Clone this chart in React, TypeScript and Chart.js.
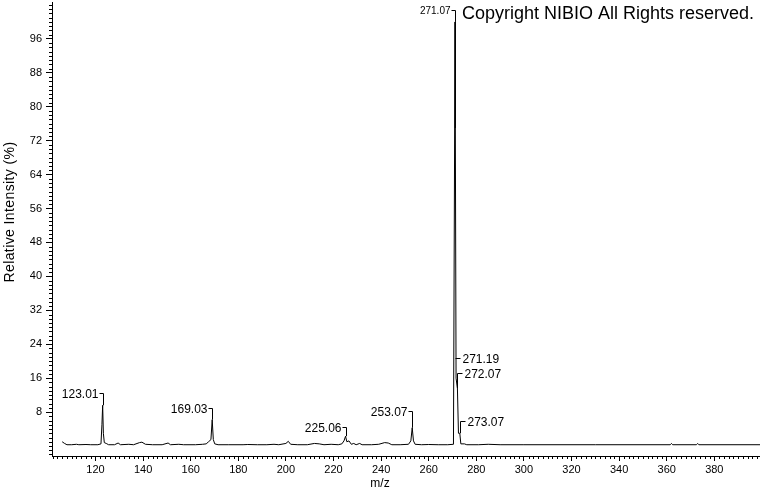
import React, { useEffect, useRef } from "react";
import { Chart, registerables } from "chart.js";
Chart.register(...registerables);

// Profile spectrum (m/z, relative intensity %)
const mz = [
  106, 107, 108, 110, 112, 113, 116, 118, 121, 122.3, 122.7, 123.01, 123.3, 123.7, 124.5, 125.5,
  128, 129.5, 130.5, 134, 136, 138.5, 139.5, 141, 144, 148, 150.5, 151.5, 155, 157, 162, 165,
  166.5, 167.5, 168.5, 169.03, 169.5, 170.1, 171.5, 176, 182, 184, 188, 192, 195, 197, 200, 201,
  202, 205, 209, 212, 214, 216, 219, 222, 223.5, 224.4, 225.06, 225.6, 226.5, 227.5, 228.5, 229.5,
  231, 232, 236, 239, 241.5, 243, 244.5, 248, 251.5, 252.5, 253.07, 253.6, 254.3, 257, 260, 264,
  268, 270.4, 271.07, 271.19, 271.5, 272.07, 272.5, 273.07, 273.5, 275, 276, 281, 285, 290, 300,
  330, 361.5, 362, 362.5, 372.5, 373, 373.5, 399.5,
];
const intensity = [
  1.0, 0.6, 0.3, 0.3, 0.4, 0.3, 0.35, 0.3, 0.3, 0.5, 5, 9.6, 3, 0.8, 0.6, 0.3,
  0.3, 0.7, 0.3, 0.4, 0.3, 0.8, 0.9, 0.4, 0.3, 0.3, 0.7, 0.3, 0.4, 0.3, 0.3, 0.4,
  0.5, 1.0, 1.5, 6.2, 1.5, 0.5, 0.3, 0.3, 0.3, 0.35, 0.3, 0.3, 0.4, 0.3, 0.6, 1.1,
  0.4, 0.3, 0.3, 0.6, 0.5, 0.3, 0.4, 0.3, 0.5, 1.2, 2.3, 1.0, 1.2, 0.4, 0.6, 0.3,
  0.6, 0.3, 0.3, 0.4, 0.8, 0.7, 0.3, 0.3, 0.4, 1.2, 4.3, 1.2, 0.4, 0.3, 0.35, 0.3,
  0.3, 0.4, 100, 75, 16, 13.5, 3, 3, 0.5, 0.5, 0.3, 0.3, 0.4, 0.3, 0.3,
  0.3, 0.3, 0.6, 0.3, 0.3, 0.6, 0.3, 0.3,
];

// Labelled peaks
const peakMz = [123.01, 169.03, 225.06, 253.07, 271.07, 271.19, 272.07, 273.07];
const peakIntensity = [9.6, 6.2, 2.3, 4.3, 100, 75, 13.5, 3];
const peakLabels = ["123.01", "169.03", "225.06", "253.07", "271.07", "271.19", "272.07", "273.07"];

// Axis ticks
const xTicks = [120, 140, 160, 180, 200, 220, 240, 260, 280, 300, 320, 340, 360, 380];
const yTicks = [8, 16, 24, 32, 40, 48, 56, 64, 72, 80, 88, 96];

// Label placement (layout only)
const labelSide = ["left", "left", "left", "left", "left", "right", "right", "right"];
const labelLevel = [12.5, 9.0, 4.5, 8.3, 102.8, 20.7, 17.2, 5.9];
const labelFont = [12, 12, 12, 12, 10, 12, 12, 12];

const FONT = "'Liberation Sans', Arial, sans-serif";

const annotPlugin = {
  id: "annot",
  afterDraw(chart: any) {
    const { ctx, chartArea } = chart;
    const x = chart.scales.x;
    const y = chart.scales.y;
    ctx.save();
    ctx.strokeStyle = "#000";
    ctx.lineWidth = 1;
    // minor ticks
    ctx.beginPath();
    for (let v = Math.ceil(y.min); v <= y.max; v++) {
      if (yTicks.includes(v)) continue;
      const py = Math.round(y.getPixelForValue(v)) + 0.5;
      ctx.moveTo(chartArea.left - 3, py);
      ctx.lineTo(chartArea.left, py);
    }
    for (let v = Math.ceil(x.min / 2) * 2; v <= x.max; v += 2) {
      if (xTicks.includes(v)) continue;
      const px = Math.round(x.getPixelForValue(v)) + 0.5;
      ctx.moveTo(px, chartArea.bottom);
      ctx.lineTo(px, chartArea.bottom + 3);
    }
    ctx.stroke();

    // peak labels
    ctx.fillStyle = "#000";
    ctx.textBaseline = "middle";
    for (let i = 0; i < peakMz.length; i++) {
      const px = Math.round(x.getPixelForValue(peakMz[i])) + 0.5;
      const ly = Math.round(y.getPixelForValue(labelLevel[i])) + 0.5;
      const top = y.getPixelForValue(peakIntensity[i]);
      ctx.font = `${labelFont[i]}px ${FONT}`;
      ctx.beginPath();
      if (labelSide[i] === "left") {
        ctx.moveTo(px - 4, ly);
        ctx.lineTo(px, ly);
        if (top > ly) ctx.lineTo(px, top);
        ctx.stroke();
        ctx.textAlign = "right";
        ctx.fillText(peakLabels[i], px - 5, ly + 1);
      } else {
        ctx.moveTo(px, ly);
        ctx.lineTo(px + 5, ly);
        if (top > ly) {
          ctx.moveTo(px, ly);
          ctx.lineTo(px, top);
        }
        ctx.stroke();
        ctx.textAlign = "left";
        ctx.fillText(peakLabels[i], px + 7, ly + 1);
      }
    }

    // copyright
    ctx.font = `18px ${FONT}`;
    ctx.textAlign = "left";
    ctx.fillText("Copyright NIBIO All Rights reserved.", 462, 14);

    // x-axis title, centred on the canvas
    ctx.font = `12px ${FONT}`;
    ctx.textAlign = "center";
    ctx.fillText("m/z", chart.width / 2, 484);

    // y-axis title
    ctx.save();
    ctx.translate(10, 212);
    ctx.rotate(-Math.PI / 2);
    ctx.font = `14px ${FONT}`;
    (ctx as any).letterSpacing = "0.4px";
    ctx.textAlign = "center";
    ctx.fillText("Relative Intensity (%)", 0, 0);
    ctx.restore();
    ctx.restore();
  },
};

export default function App() {
  const ref = useRef<HTMLCanvasElement | null>(null);
  useEffect(() => {
    if (!ref.current) return;
    const chart = new Chart(ref.current, {
      type: "scatter",
      data: {
        datasets: [
          {
            data: mz.map((v, i) => ({ x: v, y: intensity[i] })),
            showLine: true,
            borderColor: "#000",
            borderWidth: 1,
            pointRadius: 0,
            tension: 0,
          },
        ],
      },
      options: {
        animation: false,
        responsive: true,
        maintainAspectRatio: false,
        layout: { padding: { top: 2, right: 0, left: 0, bottom: 0 } },
        plugins: { legend: { display: false }, tooltip: { enabled: false } },
        scales: {
          x: {
            type: "linear",
            min: 101.72,
            max: 399.2,
            afterFit: (s: any) => {
              s.height = 36;
              s.paddingLeft = 0;
              s.paddingRight = 0;
            },
            afterBuildTicks: (s: any) => {
              s.ticks = xTicks.map((v) => ({ value: v }));
            },
            border: { display: true, color: "#000", width: 1 },
            grid: { display: true, drawOnChartArea: false, drawTicks: true, tickLength: 5, color: "#000" },
            ticks: { color: "#000", font: { family: FONT, size: 11 }, padding: 2, maxRotation: 0, autoSkip: false },
            title: { display: false },
          },
          y: {
            type: "linear",
            min: -2.36,
            max: 104.7,
            afterFit: (s: any) => {
              s.width = 52;
              s.paddingTop = 0;
              s.paddingBottom = 0;
            },
            afterBuildTicks: (s: any) => {
              s.ticks = yTicks.map((v) => ({ value: v }));
            },
            border: { display: true, color: "#000", width: 1 },
            grid: { display: true, drawOnChartArea: false, drawTicks: true, tickLength: 6, color: "#000" },
            ticks: { color: "#000", font: { family: FONT, size: 11 }, padding: 4, autoSkip: false },
            title: { display: false },
          },
        },
      },
      plugins: [annotPlugin],
    } as any);
    return () => chart.destroy();
  }, []);
  return (
    <div style={{ position: "fixed", left: 0, top: 0, width: 760, height: 492, background: "#fff" }}>
      <canvas ref={ref} />
    </div>
  );
}
